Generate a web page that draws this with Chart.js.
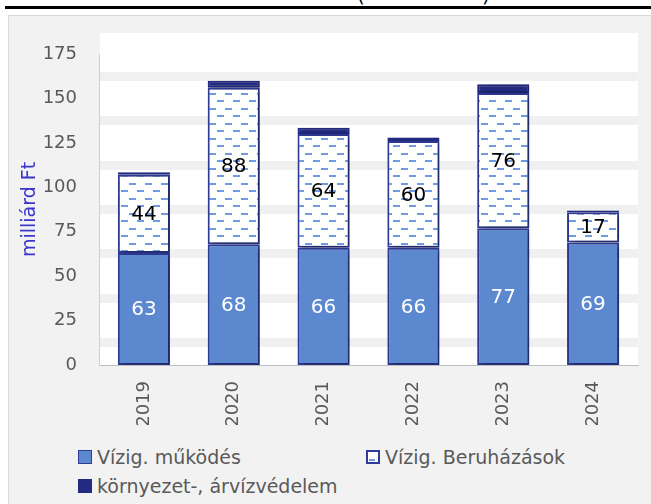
<!DOCTYPE html>
<html>
<head>
<meta charset="utf-8">
<script src="https://cdn.jsdelivr.net/npm/chart.js@4/dist/chart.umd.min.js"></script>
<style>
  body { margin: 0; background: #fff; font-family: "DejaVu Sans", sans-serif; }
  #page { position: relative; width: 651px; height: 504px; overflow: hidden; }
  #topline { position: absolute; left: 5px; right: 0; top: 6px; height: 3px; background: #000; }
  .paren { position: absolute; top: -17px; font-size: 20px; color: #000; }
  #frame { position: absolute; left: 8px; top: 15px; width: 660px; height: 520px;
           background: #f2f2f2; border: 1px solid #d9d9d9; }
  #chart-box { position: absolute; left: 0; top: 0; width: 651px; height: 440px; }
  .legend-item { position: absolute; display: flex; align-items: center; font-size: 19px; color: #595959; }
  .swatch { width: 14px; height: 14px; margin-right: 5px; box-sizing: border-box; position: relative; }
</style>
</head>
<body>
<div id="page">
  <div id="topline"></div>
  <span class="paren" style="left:357px">(</span>
  <span class="paren" style="left:482px">)</span>
  <div id="frame"></div>
  <div id="chart-box"><canvas id="chart"></canvas></div>
  <div id="legend"></div>
</div>
<script>
// Data
const years = ["2019", "2020", "2021", "2022", "2023", "2024"];
const mukodes = [63, 68, 66, 66, 77, 69];
const beruhazasok = [44, 88, 64, 60, 76, 17];
const kornyezet = [1.5, 4, 3.5, 2, 5, 1];
const seriesNames = ["Vízig. működés", "Vízig. Beruházások", "környezet-, árvízvédelem"];
const yTicks = [0, 25, 50, 75, 100, 125, 150, 175];
const bandLevels = [12.5, 37.5, 62.5, 87.5, 112.5, 137.5, 162.5];
const yTitle = "milliárd Ft";

const blue = "#5b88cf";
const navy = "#232a82";
const edge = "#2f3b98";
const dash = "#6f9be3";
const grey = "#595959";

// dashed fill for the investment series
function makePattern() {
    const c = document.createElement("canvas");
    c.width = 16;
    c.height = 15;
    const p = c.getContext("2d");
    p.fillStyle = "#fff";
    p.fillRect(0, 0, 16, 15);
    p.fillStyle = dash;
    p.fillRect(1, 3, 7, 2);
    p.fillRect(9, 10, 7, 2);
    return p.createPattern(c, "repeat");
}

// white plot area (a bit taller than the axis range)
const plotBackground = {
    id: "plotBackground",
    beforeDraw(chart) {
        const { ctx, chartArea } = chart;
        ctx.save();
        ctx.fillStyle = "#fff";
        ctx.fillRect(chartArea.left + 1, chartArea.top - 21, chartArea.right - chartArea.left - 1, chartArea.bottom - chartArea.top + 21);
        ctx.restore();
    }
};

// soft shadow behind the bars
const barShadow = {
    id: "barShadow",
    beforeDatasetDraw(chart) {
        const ctx = chart.ctx;
        ctx.save();
        ctx.shadowColor = "rgba(0,0,0,0.4)";
        ctx.shadowBlur = 6;
        ctx.shadowOffsetX = 3;
        ctx.shadowOffsetY = 2;
    },
    afterDatasetDraw(chart) {
        chart.ctx.restore();
    }
};

// value labels inside the two big segments
const valueLabels = {
    id: "valueLabels",
    afterDatasetsDraw(chart) {
        const ctx = chart.ctx;
        ctx.save();
        ctx.font = "20px 'DejaVu Sans'";
        ctx.textAlign = "center";
        ctx.textBaseline = "middle";
        [0, 1].forEach((di) => {
            const meta = chart.getDatasetMeta(di);
            ctx.fillStyle = di === 0 ? "#fff" : "#000";
            meta.data.forEach((bar, i) => {
                const pt = bar.getCenterPoint();
                ctx.fillText(String(chart.data.datasets[di].data[i]), pt.x, pt.y + 1);
            });
        });
        ctx.restore();
    }
};

const ctx = document.getElementById("chart").getContext("2d");
new Chart(ctx, {
    type: "bar",
    data: {
        labels: years,
        datasets: [
            { label: seriesNames[0], data: mukodes, backgroundColor: blue, borderColor: edge },
            { label: seriesNames[1], data: beruhazasok, backgroundColor: makePattern(), borderColor: edge },
            { label: seriesNames[2], data: kornyezet, backgroundColor: navy, borderColor: navy }
        ]
    },
    options: {
        responsive: true,
        maintainAspectRatio: false,
        animation: false,
        layout: { padding: { top: 54, right: 13, bottom: 15, left: 0 } },
        datasets: {
            bar: { barPercentage: 0.58, categoryPercentage: 1, borderWidth: 2, borderSkipped: false }
        },
        plugins: {
            legend: { display: false },
            tooltip: { enabled: false }
        },
        scales: {
            x: {
                stacked: true,
                grid: { display: false, drawTicks: false },
                border: { display: true, color: "#bfbfbf", width: 1 },
                ticks: {
                    color: grey,
                    font: { family: "DejaVu Sans", size: 18 },
                    minRotation: 90,
                    maxRotation: 90,
                    padding: 16
                },
                afterFit: (s) => { s.height = 60; }
            },
            y: {
                stacked: true,
                min: 0,
                max: 175,
                grid: { display: false, drawTicks: false },
                border: { display: true, color: "#d0d0d0", width: 1 },
                ticks: {
                    stepSize: 25,
                    color: grey,
                    font: { family: "DejaVu Sans", size: 18 },
                    padding: 22
                },
                afterBuildTicks: (s) => { s.ticks = yTicks.map((v) => ({ value: v })); },
                title: {
                    display: true,
                    text: yTitle,
                    color: "#3b36c9",
                    font: { family: "DejaVu Sans", size: 19 },
                    padding: { top: 19, bottom: 0 }
                },
                afterFit: (s) => { s.width = 99; }
            },
            bands: {
                type: "linear",
                position: "left",
                min: 0,
                max: 175,
                grid: { color: "#f0f0f0", lineWidth: 9, drawTicks: false },
                border: { display: false },
                ticks: { display: false },
                afterBuildTicks: (s) => { s.ticks = bandLevels.map((v) => ({ value: v })); },
                afterFit: (s) => { s.width = 0; }
            }
        }
    },
    plugins: [plotBackground, barShadow, valueLabels]
});

// legend laid out like the original (two columns)
const legendPos = [[78, 446], [366, 446], [78, 475]];
const legend = document.getElementById("legend");
seriesNames.forEach((name, i) => {
    const item = document.createElement("div");
    item.className = "legend-item";
    item.style.left = legendPos[i][0] + "px";
    item.style.top = legendPos[i][1] + "px";
    const sw = document.createElement("span");
    sw.className = "swatch";
    if (i === 0) {
        sw.style.background = blue;
        sw.style.border = "1.5px solid " + edge;
    } else if (i === 1) {
        sw.style.background = "#fff";
        sw.style.border = "2px solid " + edge;
        sw.innerHTML = '<span style="position:absolute;left:1px;bottom:1px;width:6px;height:2px;background:' + dash + '"></span>';
    } else {
        sw.style.background = navy;
    }
    item.appendChild(sw);
    const txt = document.createElement("span");
    txt.innerText = name;
    item.appendChild(txt);
    legend.appendChild(item);
});
</script>
</body>
</html>
